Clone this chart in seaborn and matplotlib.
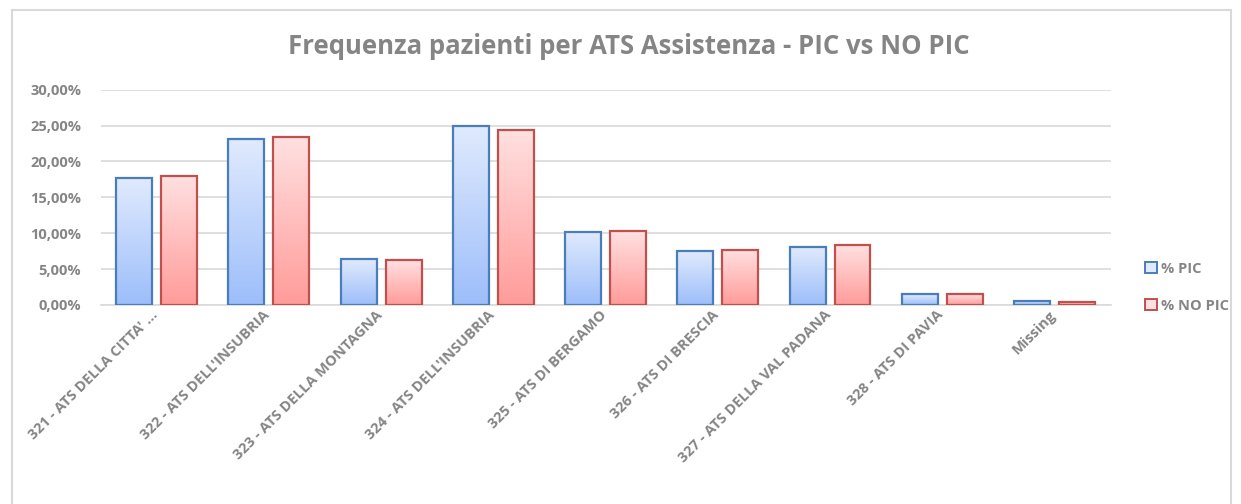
import numpy as np
import pandas as pd
import matplotlib
matplotlib.use('Agg')
from matplotlib import pyplot as plt
from matplotlib.patches import Patch, Rectangle
from matplotlib.ticker import FuncFormatter
import matplotlib.transforms as mtrans
import seaborn as sns

categories = ["321 - ATS DELLA CITTA' ...", "322 - ATS DELL'INSUBRIA", "323 - ATS DELLA MONTAGNA",
              "324 - ATS DELL'INSUBRIA", "325 - ATS DI BERGAMO", "326 - ATS DI BRESCIA",
              "327 - ATS DELLA VAL PADANA", "328 - ATS DI PAVIA", "Missing"]
pic = [17.7, 23.1, 6.4, 25.0, 10.2, 7.5, 8.1, 1.5, 0.6]
no_pic = [18.0, 23.4, 6.2, 24.4, 10.3, 7.7, 8.3, 1.5, 0.45]
series = ['% PIC', '% NO PIC']

df = pd.DataFrame({'ats': categories * 2,
                   'serie': [series[0]] * len(categories) + [series[1]] * len(categories),
                   'val': pic + no_pic})

edge_cols = {'% PIC': '#4a7ebb', '% NO PIC': '#c0504d'}
grad_cols = {'% PIC': ('#e0eafd', '#9dbefb'), '% NO PIC': ('#ffe0e0', '#ff9c9a')}
txt_col = '#858585'

sns.set_theme(style='white')
plt.rcParams['font.family'] = ['Open Sans', 'DejaVu Sans']

fig = plt.figure(figsize=(12.41, 5.04), dpi=100)
ax = fig.add_axes([0.081, 0.395, 0.814, 0.427])

sns.barplot(data=df, x='ats', y='val', hue='serie', hue_order=series, order=categories,
            width=0.8, gap=0.2, palette=edge_cols, ax=ax, legend=False, zorder=3)

# gradient fill inside each bar
for p, (s, c) in zip(ax.patches, [(s, c) for s in series for c in categories]):
    p.set_facecolor('none')
    p.set_edgecolor(edge_cols[s])
    p.set_linewidth(1.6)
    x0, y0 = p.get_x(), p.get_y()
    w, h = p.get_width(), p.get_height()
    top, bot = grad_cols[s]
    cmap = matplotlib.colors.LinearSegmentedColormap.from_list('g', [bot, top])
    grad = np.linspace(0, 1, 100).reshape(-1, 1)
    im = ax.imshow(grad, cmap=cmap, origin='lower', aspect='auto',
                   extent=[x0, x0 + w, y0, y0 + h], zorder=2)
    im.set_clip_path(p)

ax.set_xlim(-0.5, len(categories) - 0.5)
ax.set_ylim(0, 30)
ax.set_yticks(np.arange(0, 31, 5))
ax.yaxis.set_major_formatter(FuncFormatter(lambda v, _: f'{v:.2f}%'.replace('.', ',')))
ax.grid(axis='y', color='#d9d9d9', linewidth=1.2, zorder=0)
ax.set_axisbelow(True)
for sp in ['top', 'right', 'left']:
    ax.spines[sp].set_visible(False)
ax.spines['bottom'].set_color('#d9d9d9')
ax.spines['bottom'].set_linewidth(1.2)
ax.set_xlabel('')
ax.set_ylabel('')
ax.tick_params(axis='y', length=0, labelsize=10.5, labelcolor=txt_col, pad=14)
ax.tick_params(axis='x', length=0, labelsize=10.5, labelcolor=txt_col, pad=2)
for lbl in ax.get_xticklabels() + ax.get_yticklabels():
    lbl.set_fontweight('bold')
plt.setp(ax.get_xticklabels(), rotation=45, ha='right', rotation_mode='anchor')
# nudge rotated labels slightly left like the original
off = mtrans.ScaledTranslation(-6 / 100, 0, fig.dpi_scale_trans)
for lbl in ax.get_xticklabels():
    lbl.set_transform(lbl.get_transform() + off)

fig.text(0.507, 0.908, 'Frequenza pazienti per ATS Assistenza - PIC vs NO PIC',
         ha='center', va='center', fontsize=18.5, fontweight='bold', color=txt_col)

handles = [Patch(facecolor=grad_cols[s][0], edgecolor=edge_cols[s], linewidth=1.4, label=s) for s in series]
leg = fig.legend(handles=handles, loc='center left', bbox_to_anchor=(0.912, 0.43), frameon=False,
                 handlelength=0.8, handleheight=0.8, handletextpad=0.3, labelspacing=1.6,
                 prop={'size': 10.5, 'weight': 'bold'})
for t in leg.get_texts():
    t.set_color(txt_col)

fig.add_artist(Rectangle((0.0097, -0.01), 0.982, 0.99, transform=fig.transFigure,
                         fill=False, edgecolor='#d9d9d9', linewidth=1.5))

plt.savefig('out.png', dpi=100)
